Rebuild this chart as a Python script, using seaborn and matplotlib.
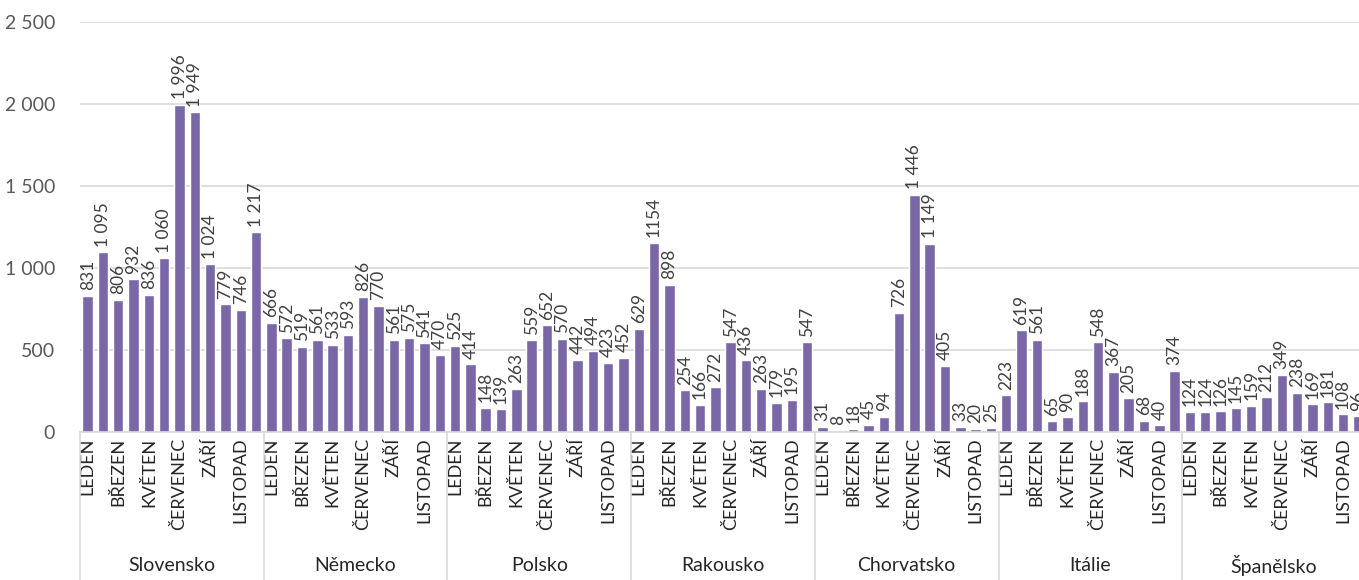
import pandas as pd
import matplotlib.pyplot as plt
import matplotlib.transforms as mtransforms
import seaborn as sns

countries = ["Slovensko", "Německo", "Polsko", "Rakousko", "Chorvatsko", "Itálie", "Španělsko"]
months = ["LEDEN", "ÚNOR", "BŘEZEN", "DUBEN", "KVĚTEN", "ČERVEN",
          "ČERVENEC", "SRPEN", "ZÁŘÍ", "ŘÍJEN", "LISTOPAD", "PROSINEC"]

slovensko = [831, 1095, 806, 932, 836, 1060, 1996, 1949, 1024, 779, 746, 1217]
nemecko = [666, 572, 519, 561, 533, 593, 826, 770, 561, 575, 541, 470]
polsko = [525, 414, 148, 139, 263, 559, 652, 570, 442, 494, 423, 452]
rakousko = [629, 1154, 898, 254, 166, 272, 547, 436, 263, 179, 195, 547]
chorvatsko = [31, 8, 18, 45, 94, 726, 1446, 1149, 405, 33, 20, 25]
italie = [223, 619, 561, 65, 90, 188, 548, 367, 205, 68, 40, 374]
spanelsko = [124, 124, 126, 145, 159, 212, 349, 238, 169, 181, 108, 96]

# labels in the source that were shown without the thousands space
raw_labels = {("Rakousko", "ÚNOR")}

series = [slovensko, nemecko, polsko, rakousko, chorvatsko, italie, spanelsko]
rows = []
for c, vals in zip(countries, series):
    for m, v in zip(months, vals):
        rows.append({"country": c, "month": m, "slot": c + "|" + m, "value": v})
df = pd.DataFrame(rows)

sns.set_theme(style="white")
plt.rcParams["font.family"] = ["Lato", "DejaVu Sans"]

text_col = "#595959"
fig = plt.figure(figsize=(13.59, 5.8), dpi=100)
ax = fig.add_axes([80 / 1359, 1 - 432 / 580, 1286 / 1359, 410 / 580])

sns.barplot(data=df, x="slot", y="value", order=list(df["slot"]),
            color="#7A67A8", saturation=1, width=0.68, ax=ax)

ax.set_xlim(-0.5, len(df) - 0.5)
ax.set_ylim(0, 2500)
ax.set_yticks(range(0, 2501, 500))
ax.set_yticklabels([f"{t:,}".replace(",", " ") for t in range(0, 2501, 500)],
                   fontsize=14, color=text_col)
ax.yaxis.grid(True, color="#d9d9d9", linewidth=1.2)
ax.set_axisbelow(True)
for s in ["top", "right", "left"]:
    ax.spines[s].set_visible(False)
ax.spines["bottom"].set_color("#d9d9d9")
ax.spines["bottom"].set_linewidth(1.2)
ax.tick_params(axis="both", length=0)
ax.tick_params(axis="y", pad=18)

# month labels, every second one like the source
ax.set_xticks(range(len(df)))
ax.set_xticklabels([m if i % 2 == 0 else "" for i, m in enumerate(df["month"])],
                   rotation=90, fontsize=13, color="#262626", va="top")
ax.tick_params(axis="x", pad=4)
ax.set_xlabel("")
ax.set_ylabel("")

# value labels
for i, r in df.iterrows():
    if (r["country"], r["month"]) in raw_labels:
        lab = str(r["value"])
    else:
        lab = f"{r['value']:,}".replace(",", " ")
    ax.annotate(lab, (i, r["value"]), xytext=(0, 4), textcoords="offset points",
                rotation=90, ha="center", va="bottom", fontsize=12.5,
                color="#404040", annotation_clip=False)

# group separators and country names
trans = mtransforms.blended_transform_factory(ax.transData, ax.transAxes)
for k in range(len(countries) + 1):
    ax.plot([12 * k - 0.5, 12 * k - 0.5], [0, -0.37], transform=trans,
            color="#d9d9d9", linewidth=1.2, clip_on=False)
for k, c in enumerate(countries):
    ax.text(12 * k + 5.5, -0.325, c, transform=trans, ha="center", va="center",
            fontsize=14, color="#262626")

fig.savefig("out.png", dpi=100)
